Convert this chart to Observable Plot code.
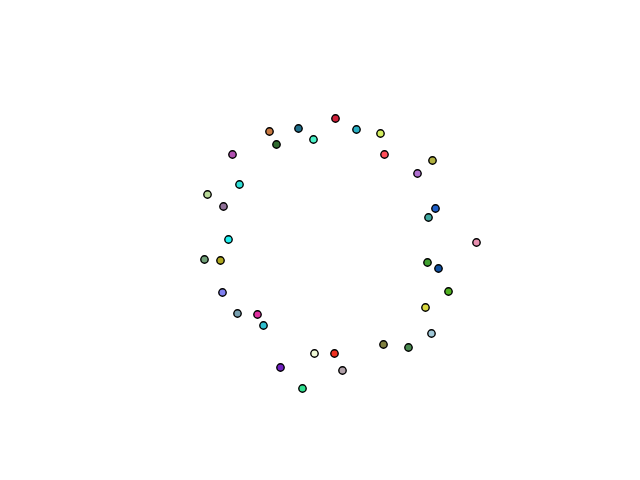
<!DOCTYPE html>
<html>
<head>
<meta charset="utf-8">
<script src="https://cdn.jsdelivr.net/npm/d3@7"></script>
<script src="https://cdn.jsdelivr.net/npm/@observablehq/plot@0.6"></script>
<style>
  html, body { margin: 0; padding: 0; background: #fff; }
</style>
</head>
<body>
<div id="chart"></div>
<script>
const xs = [335, 356, 380, 298, 269, 313, 276, 384, 432, 232, 417, 239, 207, 435, 223, 428, 476, 228, 204, 220, 427, 438, 448, 222, 425, 237, 257, 263, 431, 383, 408, 314, 334, 280, 342, 302];
const ys = [118, 129, 133, 128, 131, 139, 144, 154, 160, 154, 173, 184, 194, 208, 206, 217, 242, 239, 259, 260, 262, 268, 291, 292, 307, 313, 314, 325, 333, 344, 347, 353, 353, 367, 370, 388];
const colors = ["#d0213a", "#2ab0c4", "#d4ee60", "#1f6f8b", "#c87941", "#4af2c8", "#2f6b2f", "#ff4e5a", "#b0b040", "#b050b0", "#b070d0", "#30e0d8", "#b8d898", "#1f5fc8", "#907098", "#40a8a0", "#e890b0", "#20f0f0", "#70a078", "#b0a820", "#40a030", "#1050a0", "#50b020", "#8080f0", "#d8d840", "#78a0b0", "#e030a0", "#30c0d0", "#a0c8d8", "#808040", "#4a8a50", "#f0fad8", "#f03020", "#7020c0", "#b0a0a8", "#30e090"];

const data = xs.map((x, i) => ({x, y: ys[i], c: colors[i]}));

const chart = Plot.plot({
  width: 640,
  height: 480,
  margin: 0,
  x: {domain: [0, 640], axis: null},
  y: {domain: [480, 0], axis: null},
  marks: [
    Plot.dot(data, {x: "x", y: "y", r: 3.7, fill: "c", stroke: "black", strokeWidth: 1.4})
  ]
});
document.getElementById("chart").appendChild(chart);
</script>
</body>
</html>
